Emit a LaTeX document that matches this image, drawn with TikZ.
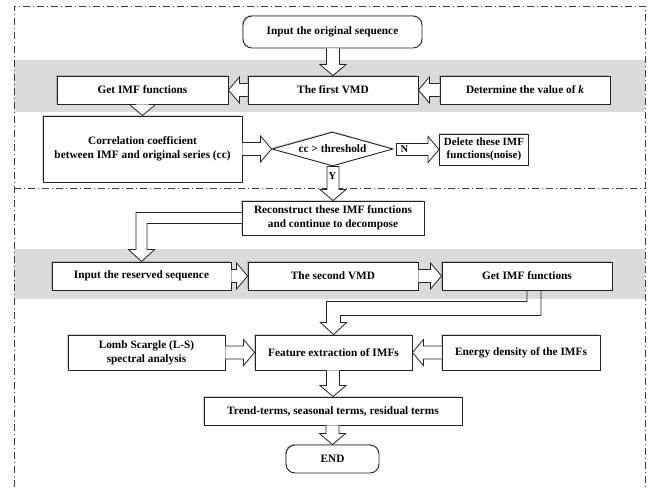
\documentclass[tikz,border=0pt]{standalone}
\usepackage{fontspec}
\setmainfont{Liberation Serif}
\usetikzlibrary{shapes.geometric,calc,shadows}
\definecolor{bandgray}{RGB}{218,218,218}
\definecolor{edge}{RGB}{35,35,35}
\definecolor{framecol}{RGB}{60,60,60}
\newcommand\arrdown[2]{\filldraw[arr] let \p1=#1, \p2=#2 in (\x2-6.5pt,\y1) -- (\x2-6.5pt,\y2+11pt) -- (\x2-13pt,\y2+11pt) -- (\x2,\y2) -- (\x2+13pt,\y2+11pt) -- (\x2+6.5pt,\y2+11pt) -- (\x2+6.5pt,\y1);}
\newcommand\arrright[2]{\filldraw[arr] let \p1=#1, \p2=#2 in (\x1,\y2+6.5pt) -- (\x2-11pt,\y2+6.5pt) -- (\x2-11pt,\y2+13pt) -- (\x2,\y2) -- (\x2-11pt,\y2-13pt) -- (\x2-11pt,\y2-6.5pt) -- (\x1,\y2-6.5pt);}
\newcommand\arrleft[2]{\filldraw[arr] let \p1=#1, \p2=#2 in (\x1,\y2+6.5pt) -- (\x2+11pt,\y2+6.5pt) -- (\x2+11pt,\y2+13pt) -- (\x2,\y2) -- (\x2+11pt,\y2-13pt) -- (\x2+11pt,\y2-6.5pt) -- (\x1,\y2-6.5pt);}
\begin{document}
\begin{tikzpicture}[x=1pt,y=-1pt,
  box/.style={draw=edge, line width=0.9pt, fill=white, inner sep=0pt, align=center,
    font=\bfseries\fontsize{11.3}{14}\selectfont,
    general shadow={fill=black, opacity=0.18, shadow xshift=-1pt, shadow yshift=1.2pt}},
  term/.style={box, rounded corners=9pt},
  arr/.style={draw=edge, line width=0.8pt, fill=white, line join=miter},
  frame/.style={draw=framecol, line width=0.8pt, dash pattern=on 7pt off 3pt on 1pt off 3pt},
  lbl/.style={inner sep=0pt, font=\bfseries\fontsize{10.5}{12}\selectfont}]
\fill[white] (0,0) rectangle (650,487);
\useasboundingbox (0,0) rectangle (650,487);
% bands
\fill[bandgray] (14,60) rectangle (645,112);
\fill[bandgray] (14,249) rectangle (645,299);
% frame and separator
\draw[frame] (14,487) -- (14,6) -- (645,6) -- (645,487);
\draw[frame] (14,188) -- (645,188);
% nodes
\node[term, minimum width=179pt, minimum height=32pt] (orig) at (332.5,32) {Input the original sequence};
\node[box, minimum width=171pt, minimum height=28pt] (getimf) at (142.5,90) {Get IMF functions};
\node[box, minimum width=170pt, minimum height=28pt] (vmd1) at (333,90) {The first VMD};
\node[box, minimum width=170pt, minimum height=28pt] (detk) at (525,90) {Determine the value of \textit{k}};
\node[box, minimum width=199pt, minimum height=66pt] (corr) at (142.5,149) {Correlation coefficient\\between IMF and original series (cc)};
\node[box, diamond, aspect=3.5, minimum width=121pt, minimum height=34pt] (dia) at (332.5,149) {cc > threshold};
\node[box, minimum width=89pt, minimum height=31pt, font=\bfseries\fontsize{11}{13}\selectfont] (del) at (484,149.5) {Delete these IMF\\functions(noise)};
\node[box, minimum width=182pt, minimum height=34pt] (rec) at (333,218) {Reconstruct these IMF functions\\and continue to decompose};
\node[box, minimum width=179pt, minimum height=28pt] (res) at (141.5,276) {Input the reserved sequence};
\node[box, minimum width=170pt, minimum height=28pt] (vmd2) at (333,276) {The second VMD};
\node[box, minimum width=170pt, minimum height=28pt] (getimf2) at (527,276) {Get IMF functions};
\node[box, minimum width=157pt, minimum height=35pt] (lomb) at (146.5,352.5) {Lomb Scargle (L-S)\\spectral analysis};
\node[box, minimum width=157pt, minimum height=35pt] (feat) at (333.5,352.5) {Feature extraction of IMFs};
\node[box, minimum width=158pt, minimum height=35pt] (energy) at (521,352.5) {Energy density of the IMFs};
\node[box, minimum width=258pt, minimum height=28pt] (trend) at (333,411) {Trend-terms, seasonal terms, residual terms};
\node[term, minimum width=93pt, minimum height=28pt] (end) at (332.5,459) {END};
% straight arrows
\arrdown{(orig.south)}{(vmd1.north)}
\arrleft{(vmd1.west)}{(getimf.east)}
\arrleft{(detk.west)}{(vmd1.east)}
\arrdown{(getimf.south)}{(getimf.south |- corr.north)}
\arrright{(corr.east)}{(dia.west)}
\filldraw[arr] let \p1=(dia.east), \p2=(del.west) in (\x1+3pt,\y2+6pt) -- (\x2-11pt,\y2+6pt) -- (\x2-11pt,\y2+13pt) -- (\x2,\y2) -- (\x2-11pt,\y2-13pt) -- (\x2-11pt,\y2-6pt) -- (\x1+3pt,\y2-6pt) -- cycle;
\filldraw[arr] let \p1=(dia.south), \p2=(rec.north) in (\x2-6pt,\y1) -- (\x2-6pt,\y2+11pt) -- (\x2-13pt,\y2+11pt) -- (\x2,\y2) -- (\x2+13pt,\y2+11pt) -- (\x2+6pt,\y2+11pt) -- (\x2+6pt,\y1) -- cycle;
\node[lbl] (nlab) at ($(dia.east)+(11,0)$) {N};
\node[lbl] (ylab) at ($(dia.south)+(0,10)$) {Y};
\arrright{(res.east)}{(vmd2.west)}
\arrright{(vmd2.east)}{(getimf2.west)}
\arrright{(lomb.east)}{(feat.west)}
\arrleft{(energy.west)}{(feat.east)}
\arrdown{(feat.south)}{(trend.north)}
\arrdown{(trend.south)}{(end.north)}
% bent arrows
\filldraw[arr] ($(rec.west)+(0,-5.5)$) -| ($(res.north)+(-5.5,-12)$) -- ($(res.north)+(-13,-12)$) -- (res.north) -- ($(res.north)+(13,-12)$) -- ($(res.north)+(5.5,-12)$) |- ($(rec.west)+(0,5.5)$);
\draw[arr, fill=none] ($(getimf2.south)+(0,0)$) -- ($(getimf2.south)+(0,11)$) -| ($(feat.north)+(-7,-12)$) -- ($(feat.north)+(-13,-12)$) -- (feat.north) -- ($(feat.north)+(13,-12)$) -- ($(feat.north)+(7,-12)$) |- ($(getimf2.south)+(14,25)$) -- ($(getimf2.south)+(14,0)$);
\end{tikzpicture}
\end{document}
